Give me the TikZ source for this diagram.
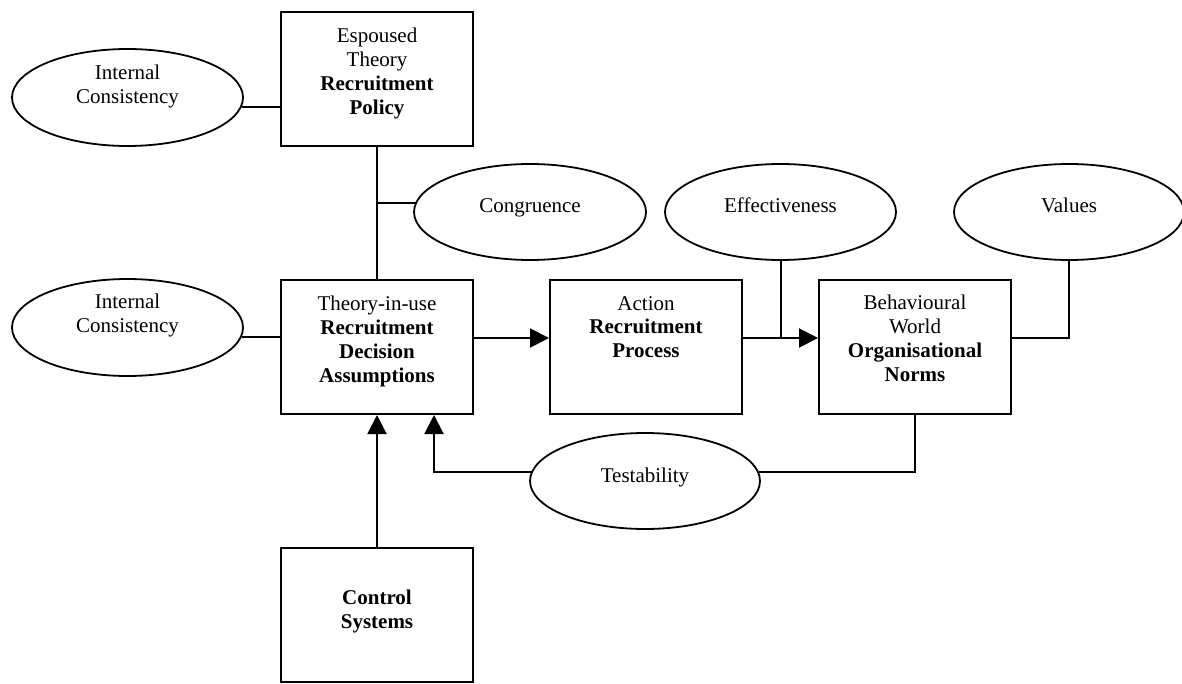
\documentclass[tikz,border=0pt]{standalone}
\usepackage{fontspec}
\setmainfont{Liberation Serif}
\usetikzlibrary{shapes.geometric,arrows.meta}
\tikzset{
  box/.style={draw, line width=2pt, rectangle, inner sep=0pt, minimum width=192pt, minimum height=134pt},
  oval/.style={draw, line width=1.8pt, ellipse, inner sep=0pt, minimum width=231pt, minimum height=97pt},
  txt/.style={inner sep=0pt, align=center, font={\fontsize{21}{23.8}\selectfont}},
  conn/.style={line width=2pt},
  arr/.style={line width=2pt, -{Triangle[length=19pt,width=19pt]}}
}
\begin{document}
\begin{tikzpicture}[x=1pt,y=-1pt]
\useasboundingbox[fill=white] (0,0) rectangle (1182,684);
% boxes
\node[box] (esp) at (377,79) {};
\node[box] (tiu) at (377,347) {};
\node[box] (act) at (646,347) {};
\node[box] (beh) at (915,347) {};
\node[box] (ctl) at (377,615) {};
% ellipses
\node[oval] (ic1) at (127.5,97.5) {};
\node[oval] (ic2) at (127.5,327.5) {};
\node[oval, minimum width=232pt, minimum height=96pt] (cong) at (530,212) {};
\node[oval, minimum height=96pt] (eff) at (780.5,212) {};
\node[oval, minimum width=230pt, minimum height=96pt] (val) at (1069,212) {};
\node[oval, minimum width=230pt, minimum height=96pt] (test) at (645,481) {};
% texts
\node[txt, anchor=north] (tesp) at (377,28) {Espoused\\Theory\\\textbf{Recruitment}\\\textbf{Policy}};
\node[txt, anchor=north] (ttiu) at (377,296) {Theory-in-use\\\textbf{Recruitment}\\\textbf{Decision}\\\textbf{Assumptions}};
\node[txt, anchor=north] (tact) at (646,296) {Action\\\textbf{Recruitment}\\\textbf{Process}};
\node[txt, anchor=north] (tbeh) at (915,295) {Behavioural\\World\\\textbf{Organisational}\\\textbf{Norms}};
\node[txt, anchor=north] (tctl) at (377,590) {\textbf{Control}\\\textbf{Systems}};
\node[txt, anchor=north] (tic1) at (127.5,65) {Internal\\Consistency};
\node[txt, anchor=north] (tic2) at (127.5,294) {Internal\\Consistency};
\node[txt, anchor=base] (tcong) at (530,213) {Congruence};
\node[txt, anchor=base] (teff) at (780.5,213) {Effectiveness};
\node[txt, anchor=base] (tval) at (1069,213) {Values};
\node[txt, anchor=base] (ttest) at (645,482) {Testability};
% rows used by the connectors
\coordinate (row) at (0,338);
\coordinate (r1) at (0,107);
\coordinate (r2) at (0,337);
\coordinate (r3) at (0,203);
\coordinate (r4) at (0,472);
% connectors
\draw[conn] (ic1.-4.8 |- r1) -- (esp.west |- r1);
\draw[conn] (ic2.-4.8 |- r2) -- (tiu.west |- r2);
\draw[conn] (esp.south) -- (tiu.north);
\draw[conn] (cong.175.4 |- r3) -- (esp.south |- r3);
\draw[arr] (tiu.east |- row) -- (act.west |- row);
\draw[arr] (act.east |- row) -- (beh.west |- row);
\draw[conn] (eff.south) -- (eff.south |- row);
\draw[conn] (beh.east |- row) -| (val.south);
\draw[conn] (beh.south) |- (test.4.6 |- r4);
\coordinate (fb) at ([xshift=57pt]tiu.south);
\draw[arr] (test.175.4 |- r4) -| (fb);
\draw[arr] (ctl.north) -- (tiu.south);
\end{tikzpicture}
\end{document}
